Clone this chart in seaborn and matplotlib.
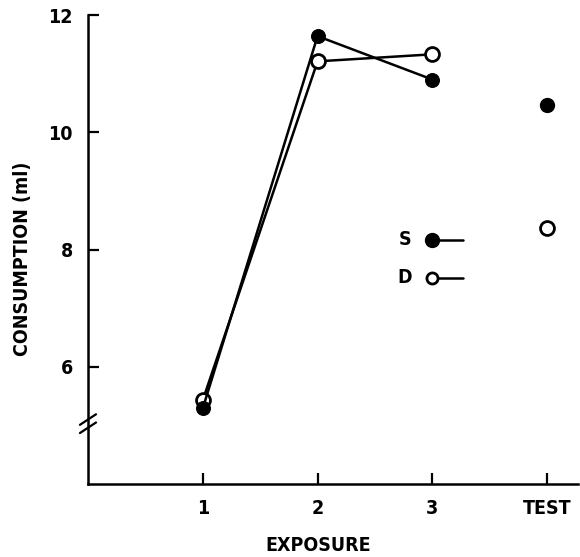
import pandas as pd
import matplotlib.pyplot as plt
import seaborn as sns

# data
exposure = [1, 2, 3]
s_exposure = [5.29, 11.64, 10.90]
d_exposure = [5.43, 11.21, 11.33]
test_x = 4
s_test = 10.46
d_test = 8.36
tick_pos = [1, 2, 3, 4]
tick_labels = ['1', '2', '3', 'TEST']
y_ticks = [6, 8, 10, 12]

sns.set_style('ticks')
plt.rcParams['font.family'] = ['DejaVu Sans']
plt.rcParams['font.stretch'] = 'condensed'
plt.rcParams['font.weight'] = 'bold'
plt.rcParams['xtick.direction'] = 'in'
plt.rcParams['ytick.direction'] = 'in'
plt.rcParams['text.color'] = 'black'
plt.rcParams['axes.labelcolor'] = 'black'
plt.rcParams['xtick.color'] = 'black'
plt.rcParams['ytick.color'] = 'black'
plt.rcParams['axes.edgecolor'] = 'black'

df = pd.DataFrame({'exposure': exposure, 'S': s_exposure, 'D': d_exposure})

fig = plt.figure(figsize=(5.8, 5.57), dpi=100)
ax = fig.add_axes([0.1517, 0.131, 0.845, 0.842])

#D first so that S sits over it at exposure 1
sns.lineplot(x='exposure', y='D', data=df, ax=ax, color='black', lw=1.8,
             marker='o', markersize=10, markerfacecolor='white',
             markeredgecolor='black', markeredgewidth=2)
sns.lineplot(x='exposure', y='S', data=df, ax=ax, color='black', lw=1.8,
             marker='o', markersize=10, markerfacecolor='black',
             markeredgecolor='black')
ax.plot([test_x], [s_test], 'o', ms=10, color='black')
ax.plot([test_x], [d_test], 'o', ms=10, mfc='white', mec='black', mew=2)

#key drawn inside the plot like the original
ax.plot([3, 3.27], [8.17, 8.17], color='black', lw=1.8)
ax.plot([3], [8.17], 'o', ms=10, color='black')
ax.plot([3, 3.27], [7.52, 7.52], color='black', lw=1.8)
ax.plot([3], [7.52], 'o', ms=8, mfc='white', mec='black', mew=2, zorder=3)
ax.text(2.76, 8.17, 'S', fontsize=14, fontweight='bold', ha='center', va='center')
ax.text(2.76, 7.52, 'D', fontsize=14, fontweight='bold', ha='center', va='center')

ax.set_xlim(0, 4.27)
ax.set_ylim(4, 12)
ax.set_xticks(tick_pos)
ax.set_xticklabels(tick_labels)
ax.set_yticks(y_ticks)
ax.tick_params(direction='in', length=8, width=1.6, pad=11, labelsize=14)
for lab in ax.get_xticklabels() + ax.get_yticklabels():
    lab.set_fontweight('bold')
sns.despine(ax=ax)
ax.spines['left'].set_linewidth(1.8)
ax.spines['bottom'].set_linewidth(1.8)

#axis break marks
for yb in [4.96, 5.1]:
    ax.plot([-0.07, 0.07], [yb - 0.09, yb + 0.09], color='black', lw=1.6,
            clip_on=False)

ax.set_xlabel('EXPOSURE', fontsize=14, fontweight='bold')
ax.set_ylabel('CONSUMPTION (ml)', fontsize=14, fontweight='bold')
ax.yaxis.set_label_coords(-0.115, 0.48)
ax.xaxis.set_label_coords(0.47, -0.11)

fig.savefig('out.png', dpi=100)
